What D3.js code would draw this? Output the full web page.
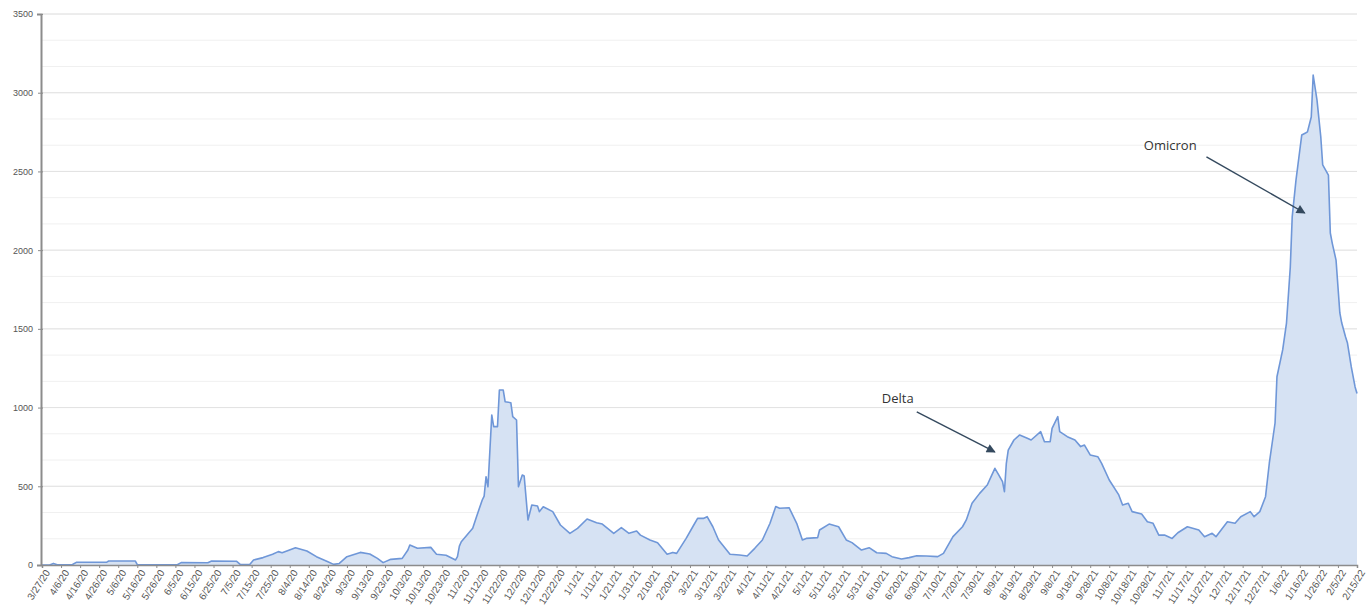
<!DOCTYPE html>
<html>
<head>
<meta charset="utf-8">
<script src="https://cdn.jsdelivr.net/npm/d3@7"></script>
<style>
  html, body { margin: 0; padding: 0; background: #fff; }
  svg { display: block; }
</style>
</head>
<body>
<div id="chart"></div>
<script>
// daily cases: day offset from 3/27/20 + value
const days = [
  0, 4, 6, 8, 16, 18, 34, 35, 49, 50, 71, 73, 87, 89, 102, 104, 109, 111, 116, 121,
  124, 126, 133, 139, 144, 150, 153, 156, 160, 167, 172, 176, 179, 183, 189, 192, 193, 197, 204, 207,
  212, 217, 218, 219, 220, 223, 226, 228, 231, 232, 233, 234, 236, 237, 239, 240, 242, 243, 246, 247,
  249, 250, 252, 253, 255, 257, 260, 261, 263, 268, 272, 277, 281, 286, 291, 294, 300, 304, 308, 312,
  314, 319, 323, 328, 331, 333, 338, 342, 344, 347, 349, 352, 355, 361, 366, 370, 374, 378, 382, 385,
  387, 392, 396, 399, 401, 407, 408, 413, 418, 422, 425, 430, 434, 438, 443, 446, 451, 455, 459, 464,
  470, 473, 478, 483, 485, 488, 492, 496, 498, 500, 502, 504, 505, 506, 507, 510, 513, 517, 519, 524,
  526, 529, 530, 533, 534, 538, 542, 545, 547, 550, 554, 556, 560, 565, 567, 570, 572, 577, 580, 583,
  586, 589, 593, 596, 601, 607, 610, 614, 616, 622, 626, 629, 634, 636, 639, 642, 644, 647, 648, 651,
  653, 655, 656, 658, 660, 661, 663, 664, 666, 667, 669, 671, 672, 675, 676, 677, 679, 681, 682, 684,
  685, 687, 689, 690
];
const cases = [
  0, 0, 10, 2, 3, 17, 18, 25, 25, 2, 2, 15, 14, 25, 24, 4, 3, 32, 47, 68,
  85, 78, 110, 89, 53, 21, 4, 10, 53, 80, 70, 42, 15, 36, 42, 95, 127, 106, 112, 68,
  62, 32, 53, 120, 148, 190, 233, 307, 413, 438, 561, 497, 953, 879, 879, 1112, 1112, 1037, 1031, 942,
  921, 497, 572, 565, 286, 381, 375, 339, 370, 339, 254, 201, 233, 292, 269, 260, 201, 237, 201, 216,
  190, 159, 142, 68, 80, 74, 169, 254, 296, 296, 307, 243, 159, 68, 64, 57, 106, 159, 265, 371,
  360, 364, 265, 159, 169, 174, 222, 260, 243, 159, 142, 95, 110, 78, 74, 53, 38, 47, 59, 57,
  53, 74, 180, 243, 286, 392, 455, 508, 561, 614, 572, 529, 466, 646, 730, 794, 826, 805, 794, 847,
  783, 783, 868, 942, 847, 815, 794, 752, 762, 699, 688, 646, 540, 445, 381, 392, 339, 324, 275, 265,
  190, 190, 169, 205, 243, 222, 180, 201, 180, 275, 265, 307, 339, 307, 339, 434, 648, 902, 1196, 1366,
  1537, 1893, 2211, 2446, 2636, 2731, 2744, 2751, 2846, 3112, 2954, 2719, 2541, 2477, 2109, 2045, 1937, 1601, 1537, 1448,
  1410, 1258, 1131, 1090
];

// one label every 10 days
const dateLabels = [
  '3/27/20', '4/6/20', '4/16/20', '4/26/20', '5/6/20', '5/16/20', '5/26/20', '6/5/20', '6/15/20', '6/25/20',
  '7/5/20', '7/15/20', '7/25/20', '8/4/20', '8/14/20', '8/24/20', '9/3/20', '9/13/20', '9/23/20', '10/3/20',
  '10/13/20', '10/23/20', '11/2/20', '11/12/20', '11/22/20', '12/2/20', '12/12/20', '12/22/20', '1/1/21', '1/11/21',
  '1/21/21', '1/31/21', '2/10/21', '2/20/21', '3/2/21', '3/12/21', '3/22/21', '4/1/21', '4/11/21', '4/21/21',
  '5/1/21', '5/11/21', '5/21/21', '5/31/21', '6/10/21', '6/20/21', '6/30/21', '7/10/21', '7/20/21', '7/30/21',
  '8/9/21', '8/19/21', '8/29/21', '9/8/21', '9/18/21', '9/28/21', '10/8/21', '10/18/21', '10/28/21', '11/7/21',
  '11/17/21', '11/27/21', '12/7/21', '12/17/21', '12/27/21', '1/6/22', '1/16/22', '1/26/22', '2/5/22', '2/15/22'
];
const yTicks = [0, 500, 1000, 1500, 2000, 2500, 3000, 3500];

// annotations: label position and arrow, in data units
const notes = [
  { text: 'Delta',   tx: 449, ty: 1030, fromDay: 459, fromVal: 972,  toDay: 500, toVal: 718 },
  { text: 'Omicron', tx: 592, ty: 2636, fromDay: 611, fromVal: 2592, toDay: 662.6, toVal: 2236 }
];

const W = 1371, H = 610;
const svg = d3.select('#chart').append('svg')
  .attr('width', W).attr('height', H);

const x = d3.scaleLinear().domain([0, 690]).range([42, 1357]);
const y = d3.scaleLinear().domain([0, 3500]).range([565, 14]);

// gridlines: light minor every 500/3, slightly darker major every 500
const minor = d3.range(0, 3501, 500 / 3);
svg.append('g').selectAll('line').data(minor).join('line')
  .attr('x1', x(0)).attr('x2', x(690))
  .attr('y1', d => y(d)).attr('y2', d => y(d))
  .attr('stroke', '#f0f0f0').attr('stroke-width', 1);
svg.append('g').selectAll('line').data(yTicks.slice(1)).join('line')
  .attr('x1', x(0)).attr('x2', x(690))
  .attr('y1', d => y(d)).attr('y2', d => y(d))
  .attr('stroke', '#e2e2e2').attr('stroke-width', 1);

const series = days.map((d, i) => ({ day: d, v: cases[i] }));

const area = d3.area().x(d => x(d.day)).y0(y(0)).y1(d => y(d.v));
const line = d3.line().x(d => x(d.day)).y(d => y(d.v));

svg.append('path').datum(series)
  .attr('d', area)
  .attr('fill', '#d6e2f3');
svg.append('path').datum(series)
  .attr('d', line)
  .attr('fill', 'none')
  .attr('stroke', '#6f97d8')
  .attr('stroke-width', 1.6)
  .attr('stroke-linejoin', 'round');

// y axis
const gy = svg.append('g')
  .attr('transform', `translate(${x(0) - 1},0)`)
  .call(d3.axisLeft(y).tickValues(yTicks).tickFormat(d3.format('d')).tickSize(4).tickPadding(4));
gy.select('.domain').attr('stroke', '#8c8c8c').attr('stroke-width', 2);
gy.selectAll('.tick line').attr('stroke', '#8c8c8c').attr('x2', 2).attr('x1', -3);
gy.selectAll('text')
  .attr('font-family', 'Liberation Sans, Arial, sans-serif')
  .attr('font-size', 9).attr('fill', '#555');

// x axis
const gx = svg.append('g')
  .attr('transform', `translate(0,${y(0)})`)
  .call(d3.axisBottom(x)
    .tickValues(dateLabels.map((_, i) => i * 10))
    .tickFormat((d, i) => dateLabels[i])
    .tickSize(3));
gx.select('.domain').attr('stroke', '#8c8c8c').attr('stroke-width', 1.5);
gx.selectAll('.tick line').attr('stroke', '#8c8c8c');
gx.selectAll('text')
  .attr('font-family', 'Liberation Sans, Arial, sans-serif')
  .attr('font-size', 10).attr('fill', '#555')
  .attr('text-anchor', 'end')
  .attr('dx', '-0.2em').attr('dy', '0.5em')
  .attr('transform', 'rotate(-57)');

// arrows
const defs = svg.append('defs');
defs.append('marker')
  .attr('id', 'arrow')
  .attr('viewBox', '0 0 10 10')
  .attr('refX', 9).attr('refY', 5)
  .attr('markerWidth', 10).attr('markerHeight', 9)
  .attr('markerUnits', 'userSpaceOnUse')
  .attr('orient', 'auto')
  .append('path').attr('d', 'M0,0 L10,5 L0,10 Z').attr('fill', '#34495e');

const gn = svg.append('g');
gn.selectAll('line').data(notes).join('line')
  .attr('x1', d => x(d.fromDay)).attr('y1', d => y(d.fromVal))
  .attr('x2', d => x(d.toDay)).attr('y2', d => y(d.toVal))
  .attr('stroke', '#34495e').attr('stroke-width', 1.4)
  .attr('marker-end', 'url(#arrow)');
gn.selectAll('text').data(notes).join('text')
  .attr('x', d => x(d.tx)).attr('y', d => y(d.ty))
  .attr('text-anchor', 'middle')
  .attr('font-family', 'Open Sans, sans-serif')
  .attr('font-size', 13).attr('fill', '#333')
  .text(d => d.text);
</script>
</body>
</html>
